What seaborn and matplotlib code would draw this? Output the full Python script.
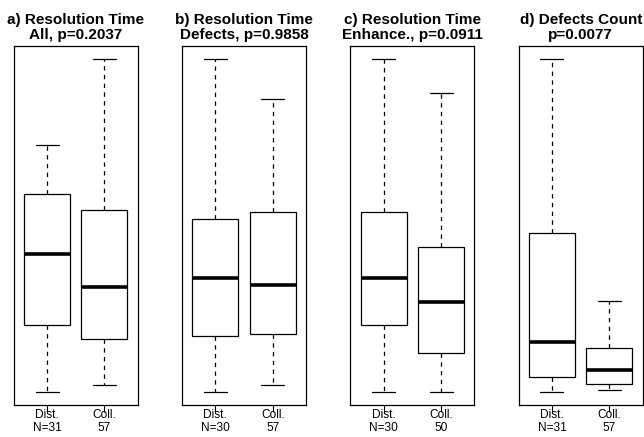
import matplotlib
matplotlib.use("Agg")
import matplotlib.pyplot as plt
import numpy as np
import pandas as pd
import seaborn as sns

# five-number summaries (min, Q1, median, Q3, max), arbitrary units
TITLES = [
    "a) Resolution Time\nAll, p=0.2037",
    "b) Resolution Time\nDefects, p=0.9858",
    "c) Resolution Time\nEnhance., p=0.0911",
    "d) Defects Count\np=0.0077",
]
GROUPS = ["Dist.", "Coll."]
N_DIST = [31, 30, 30, 31]
N_COLL = [57, 57, 50, 57]

dist_all = [0, 67, 137, 197, 246]
coll_all = [7, 53, 104, 181, 332]
dist_def = [0, 56, 113, 172, 332]
coll_def = [7, 58, 106, 179, 292]
dist_enh = [0, 67, 113, 179, 332]
coll_enh = [0, 39, 90, 144, 298]
dist_cnt = [0, 15, 50, 158, 332]
coll_cnt = [2, 8, 22, 44, 91]

PANELS = [
    (dist_all, coll_all),
    (dist_def, coll_def),
    (dist_enh, coll_enh),
    (dist_cnt, coll_cnt),
]

sns.set_theme(style="white")
plt.rcParams["font.family"] = ["Liberation Sans", "DejaVu Sans"]
plt.rcParams["text.color"] = "black"
plt.rcParams["axes.labelcolor"] = "black"
plt.rcParams["xtick.color"] = "black"
plt.rcParams["xtick.labelcolor"] = "black"

fig, axes = plt.subplots(1, 4, figsize=(6.44, 4.37), dpi=100)
fig.subplots_adjust(left=0.0213, right=0.998, bottom=0.0732, top=0.8954, wspace=0.357)

for i, (ax, (d, c)) in enumerate(zip(axes, PANELS)):
    df = pd.DataFrame({
        "group": [GROUPS[0]] * len(d) + [GROUPS[1]] * len(c),
        "value": d + c,
    })
    sns.boxplot(
        data=df, x="group", y="value", order=GROUPS, ax=ax,
        whis=np.inf, width=0.8, color="white", linecolor="black",
        linewidth=0.9, showfliers=False,
        medianprops=dict(linewidth=2.6, color="black"),
        whiskerprops=dict(linestyle=(0, (3.5, 3.5)), linewidth=0.9),
        capprops=dict(linewidth=0.9),
        boxprops=dict(facecolor="white", edgecolor="black", linewidth=0.9),
    )
    vals = np.array(d + c, dtype=float)
    lo, hi = vals.min(), vals.max()
    pad = 0.04 * (hi - lo)
    ax.set_ylim(lo - pad, hi + pad)
    ax.set_xlim(-0.58, 1.58)
    ax.set_xlabel("")
    ax.set_ylabel("")
    ax.set_yticks([])
    ax.set_xticks([0, 1])
    ax.set_xticklabels(
        [f"{GROUPS[0]}\nN={N_DIST[i]}", f"{GROUPS[1]}\n{N_COLL[i]}"],
        fontsize=8.6, linespacing=1.15, color="black",
    )
    ax.tick_params(axis="x", direction="out", length=4.7, width=0.8,
                   color="black", pad=-2.0, bottom=True)
    for sp in ax.spines.values():
        sp.set_visible(True)
        sp.set_color("black")
        sp.set_linewidth(0.9)
    ax.set_title(TITLES[i], fontsize=11, fontweight="bold", pad=5,
                 linespacing=1.05, color="black")

fig.savefig("out.png", dpi=100, facecolor="white")
